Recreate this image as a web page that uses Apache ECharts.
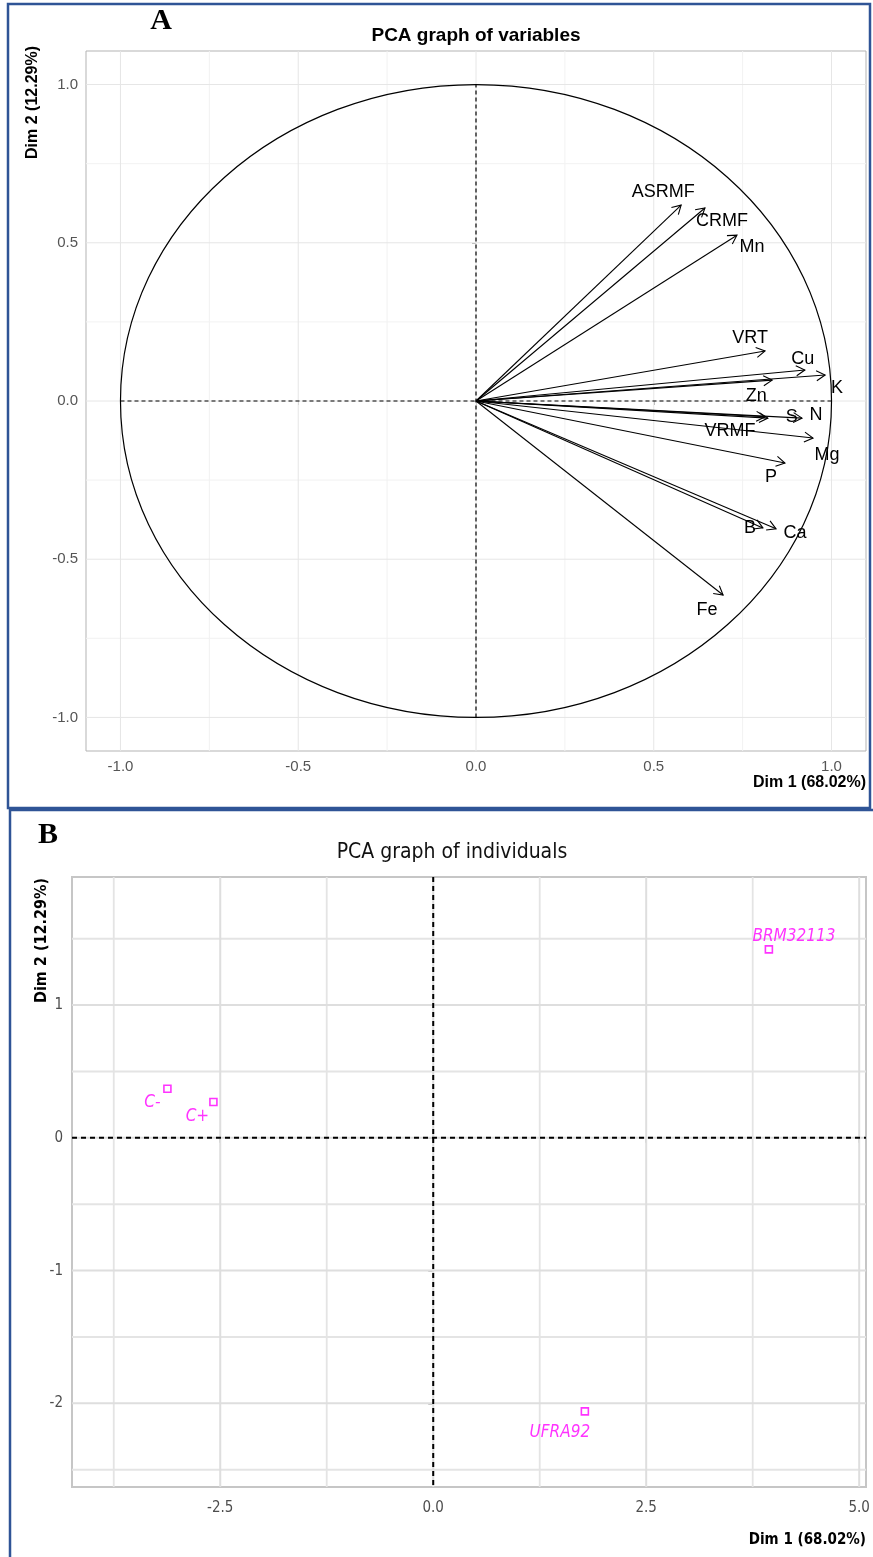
<!DOCTYPE html>
<html><head><meta charset="utf-8">
<script src="https://cdn.jsdelivr.net/npm/echarts@6/dist/echarts.min.js"></script>
<style>html,body{margin:0;padding:0;background:#fff}#c{width:873px;height:1557px}</style>
</head><body><div id="c"></div>
<script>
// ---------- Panel A: PCA graph of variables ----------
const varNames = ['ASRMF','CRMF','Mn','VRT','Cu','K','Zn','S','N','VRMF','Mg','P','B','Ca','Fe'];
const varDim1  = [0.577, 0.644, 0.734, 0.813, 0.925, 0.982, 0.833, 0.821, 0.917, 0.813, 0.948, 0.869, 0.807, 0.844, 0.695];
const varDim2  = [0.619, 0.610, 0.524, 0.158, 0.098, 0.082, 0.066, -0.054, -0.054, -0.050, -0.117, -0.196, -0.401, -0.404, -0.613];
const ticksA   = [-1, -0.5, 0, 0.5, 1];
const minorA   = [-0.75, -0.25, 0.25, 0.75];
const circleRadius = [1];

// ---------- Panel B: PCA graph of individuals ----------
const indNames = ['BRM32113', 'C-', 'C+', 'UFRA92'];
const indDim1  = [3.94, -3.12, -2.58, 1.78];
const indDim2  = [1.42, 0.37, 0.27, -2.06];
const ticksBx  = [-2.5, 0, 2.5, 5];
const minorBx  = [-3.75, -1.25, 1.25, 3.75];
const ticksBy  = [-2, -1, 0, 1];
const minorBy  = [-2.5, -1.5, -0.5, 0.5, 1.5];

// label placement (pixel offsets from arrow tip / point) – styling only
const varLabelOffset = {ASRMF:[-18,-13], CRMF:[17,13], Mn:[15,12], VRT:[-15,-13], Cu:[-2,-11], K:[12,13],
  Zn:[-16,16], S:[24,-1], N:[14,-3], VRMF:[-35,14], Mg:[14,17], P:[-14,14], B:[-13,0], Ca:[19,4], Fe:[-16,15]};
const indLabelOffset = {'BRM32113':[25,-13], 'C-':[-15,14], 'C+':[-16,15], 'UFRA92':[-25,21]};

const fontA = '"Liberation Sans", Arial, sans-serif';
const fontB = '"Liberation Sans Narrow", "DejaVu Sans Condensed", "Liberation Sans", sans-serif';

function gridLines(gi, vals, dir, color, width, z, dash) {
  return {
    type: 'custom', xAxisIndex: gi, yAxisIndex: gi, silent: true, z: z,
    data: vals.map(v => dir === 'v' ? [v, 0] : [0, v]),
    renderItem: (params, api) => {
      const cs = params.coordSys;
      const p = api.coord([api.value(0), api.value(1)]);
      const shape = dir === 'v'
        ? {x1: p[0], y1: cs.y, x2: p[0], y2: cs.y + cs.height}
        : {x1: cs.x, y1: p[1], x2: cs.x + cs.width, y2: p[1]};
      return {type: 'line', shape: shape, style: {stroke: color, lineWidth: width, lineDash: dash || null}};
    }
  };
}

const chart = echarts.init(document.getElementById('c'), null, {renderer: 'canvas', width: 873, height: 1557});

const option = {
  animation: false,
  backgroundColor: '#fff',
  grid: [
    {left: 86, top: 51, width: 780, height: 700, show: true, borderColor: '#B3B3B3', borderWidth: 1, backgroundColor: 'transparent'},
    {left: 72, top: 877, width: 794, height: 610, show: true, borderColor: '#C6C6C6', borderWidth: 2, backgroundColor: 'transparent'}
  ],
  xAxis: [
    {gridIndex: 0, type: 'value', min: -1.097, max: 1.097,
     axisLine: {show: false}, splitLine: {show: false},
     axisTick: {show: true, customValues: ticksA, length: 4, lineStyle: {color: '#B3B3B3'}},
     axisLabel: {customValues: ticksA, formatter: v => Number(v).toFixed(1), color: '#555', fontSize: 15, fontFamily: fontA, margin: 8}},
    {gridIndex: 1, type: 'value', min: -4.24, max: 5.08,
     axisLine: {show: false}, splitLine: {show: false},
     axisTick: {show: true, customValues: ticksBx, length: 5, lineStyle: {color: '#B0B0B0', width: 1.5}},
     axisLabel: {customValues: ticksBx, formatter: v => Number(v).toFixed(1), color: '#4D4D4D', fontSize: 15, fontFamily: fontB, margin: 14}}
  ],
  yAxis: [
    {gridIndex: 0, type: 'value', min: -1.106, max: 1.106,
     axisLine: {show: false}, splitLine: {show: false},
     axisTick: {show: true, customValues: ticksA, length: 4, lineStyle: {color: '#B3B3B3'}},
     axisLabel: {customValues: ticksA, formatter: v => Number(v).toFixed(1), color: '#555', fontSize: 15, fontFamily: fontA, margin: 8}},
    {gridIndex: 1, type: 'value', min: -2.63, max: 1.965,
     axisLine: {show: false}, splitLine: {show: false},
     axisTick: {show: true, customValues: ticksBy, length: 5, lineStyle: {color: '#B0B0B0', width: 1.5}},
     axisLabel: {customValues: ticksBy, formatter: v => String(v), color: '#4D4D4D', fontSize: 15, fontFamily: fontB, margin: 9}}
  ],
  graphic: [
    {type: 'rect', shape: {x: 8, y: 4, width: 862, height: 804}, style: {fill: null, stroke: '#2F5496', lineWidth: 2.5}, z: 100},
    {type: 'rect', shape: {x: 10, y: 810, width: 880, height: 800}, style: {fill: null, stroke: '#2F5496', lineWidth: 2.5}, z: 100},
    {type: 'text', x: 161, y: 21, style: {text: 'A', font: 'bold 30px "Liberation Serif", serif', fill: '#000', textAlign: 'center', textVerticalAlign: 'middle', align: 'center', verticalAlign: 'middle'}},
    {type: 'text', x: 48, y: 835, style: {text: 'B', font: 'bold 30px "Liberation Serif", serif', fill: '#000', textAlign: 'center', textVerticalAlign: 'middle', align: 'center', verticalAlign: 'middle'}},
    {type: 'text', x: 476, y: 36, style: {text: 'PCA graph of variables', font: 'bold 19px ' + fontA, fill: '#000', textAlign: 'center', textVerticalAlign: 'middle', align: 'center', verticalAlign: 'middle'}},
    {type: 'text', x: 452, y: 853, style: {text: 'PCA graph of individuals', font: '21px ' + fontB, fill: '#111', textAlign: 'center', textVerticalAlign: 'middle', align: 'center', verticalAlign: 'middle'}},
    {type: 'text', x: 866, y: 783, style: {text: 'Dim 1 (68.02%)', font: 'bold 16px ' + fontA, fill: '#000', textAlign: 'right', textVerticalAlign: 'middle', align: 'right', verticalAlign: 'middle'}},
    {type: 'text', x: 33, y: 46, rotation: Math.PI / 2, style: {text: 'Dim 2 (12.29%)', font: 'bold 16px ' + fontA, fill: '#000', textAlign: 'right', textVerticalAlign: 'middle', align: 'right', verticalAlign: 'middle'}},
    {type: 'text', x: 866, y: 1540, style: {text: 'Dim 1 (68.02%)', font: 'bold 15px ' + fontB, fill: '#000', textAlign: 'right', textVerticalAlign: 'middle', align: 'right', verticalAlign: 'middle'}},
    {type: 'text', x: 42, y: 878, rotation: Math.PI / 2, style: {text: 'Dim 2 (12.29%)', font: 'bold 16px ' + fontB, fill: '#000', textAlign: 'right', textVerticalAlign: 'middle', align: 'right', verticalAlign: 'middle'}}
  ],
  series: [
    // panel A grid
    gridLines(0, minorA, 'v', '#F2F2F2', 1, 1),
    gridLines(0, minorA, 'h', '#F2F2F2', 1, 1),
    gridLines(0, ticksA, 'v', '#E6E6E6', 1, 1),
    gridLines(0, ticksA, 'h', '#E6E6E6', 1, 1),
    // panel A dashed axes inside circle
    {type: 'line', xAxisIndex: 0, yAxisIndex: 0, z: 2, silent: true, symbol: 'none',
     data: [[-circleRadius[0], 0], [circleRadius[0], 0]], lineStyle: {color: '#000', width: 1.2, type: [4, 3]}},
    {type: 'line', xAxisIndex: 0, yAxisIndex: 0, z: 2, silent: true, symbol: 'none',
     data: [[0, -circleRadius[0]], [0, circleRadius[0]]], lineStyle: {color: '#000', width: 1.2, type: [4, 3]}},
    // correlation circle
    {type: 'custom', xAxisIndex: 0, yAxisIndex: 0, z: 3, silent: true,
     data: circleRadius.map(r => [r, r]),
     renderItem: (params, api) => {
       const c = api.coord([0, 0]);
       const e = api.coord([api.value(0), api.value(1)]);
       return {type: 'ellipse', shape: {cx: c[0], cy: c[1], rx: e[0] - c[0], ry: c[1] - e[1]},
               style: {fill: null, stroke: '#000', lineWidth: 1.2}};
     }},
    // variable arrows
    {type: 'custom', xAxisIndex: 0, yAxisIndex: 0, z: 4, silent: true,
     data: varNames.map((n, i) => [varDim1[i], varDim2[i]]),
     renderItem: (params, api) => {
       const i = params.dataIndex;
       const o = api.coord([0, 0]);
       const p = api.coord([api.value(0), api.value(1)]);
       const ang = Math.atan2(p[1] - o[1], p[0] - o[0]);
       const L = 10, a = Math.PI / 6;
       const h1 = [p[0] - L * Math.cos(ang - a), p[1] - L * Math.sin(ang - a)];
       const h2 = [p[0] - L * Math.cos(ang + a), p[1] - L * Math.sin(ang + a)];
       const off = varLabelOffset[varNames[i]];
       return {type: 'group', children: [
         {type: 'line', shape: {x1: o[0], y1: o[1], x2: p[0], y2: p[1]}, style: {stroke: '#000', lineWidth: 1.1}},
         {type: 'polyline', shape: {points: [h1, p, h2]}, style: {stroke: '#000', lineWidth: 1.1, fill: null}},
         {type: 'text', x: p[0] + off[0], y: p[1] + off[1],
          style: {text: varNames[i], fontSize: 18, fontFamily: fontA, fill: '#000',
                  textAlign: 'center', textVerticalAlign: 'middle', align: 'center', verticalAlign: 'middle'}}
       ]};
     }},
    // panel B grid
    gridLines(1, minorBx, 'v', '#E4E4E4', 1.8, 1),
    gridLines(1, minorBy, 'h', '#E4E4E4', 1.8, 1),
    gridLines(1, ticksBx, 'v', '#DEDEDE', 2, 1),
    gridLines(1, ticksBy, 'h', '#DEDEDE', 2, 1),
    // panel B dashed zero lines
    gridLines(1, [0], 'v', '#000', 2, 2, [5, 4]),
    gridLines(1, [0], 'h', '#000', 2, 2, [5, 4]),
    // individuals
    {type: 'scatter', xAxisIndex: 1, yAxisIndex: 1, z: 4, silent: true,
     symbol: 'rect', symbolSize: 7,
     itemStyle: {color: 'rgba(255,255,255,0)', borderColor: '#FF00FF', borderWidth: 1.6},
     data: indNames.map((n, i) => ({name: n, value: [indDim1[i], indDim2[i]], label: {offset: indLabelOffset[n]}})),
     label: {show: true, position: 'inside', formatter: '{b}', color: '#FF00FF', fontStyle: 'italic',
             fontSize: 17, fontFamily: fontB}}
  ]
};
chart.setOption(option);
</script>
</body></html>
